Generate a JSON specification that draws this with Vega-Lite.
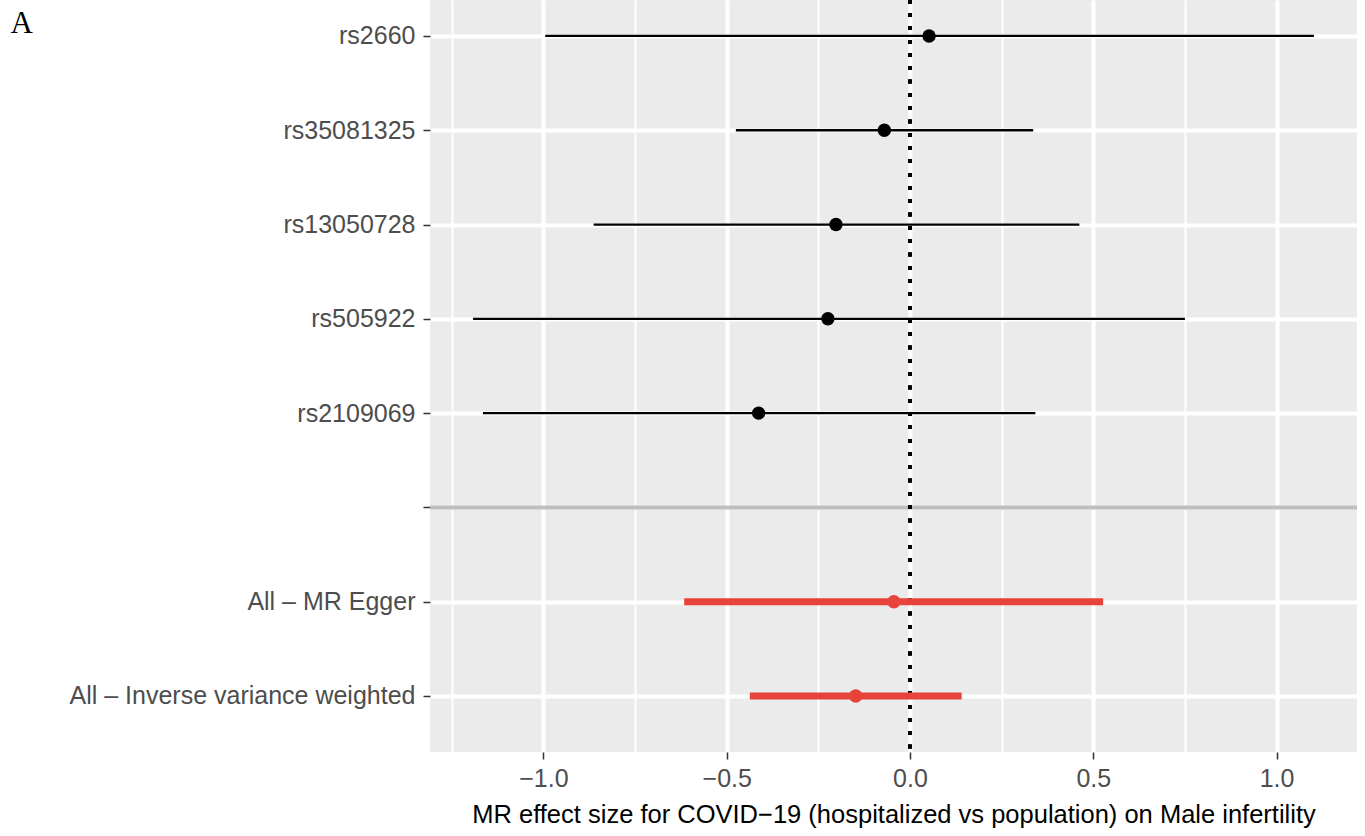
{
  "$schema": "https://vega.github.io/schema/vega-lite/v6.json",
  "autosize": {"type": "none"},
  "width": 927,
  "height": 752,
  "padding": {"left": 430, "top": 0, "right": 8, "bottom": 84},
  "background": "white",
  "config": {"view": {"fill": "#EBEBEB", "stroke": null}},
  "data": {
    "values": [
      {"SNP": "rs2660", "b": 0.052, "lo": -0.995, "hi": 1.102, "type": "snp"},
      {"SNP": "rs35081325", "b": -0.070, "lo": -0.475, "hi": 0.336, "type": "snp"},
      {"SNP": "rs13050728", "b": -0.202, "lo": -0.863, "hi": 0.462, "type": "snp"},
      {"SNP": "rs505922", "b": -0.224, "lo": -1.192, "hi": 0.750, "type": "snp"},
      {"SNP": "rs2109069", "b": -0.413, "lo": -1.165, "hi": 0.342, "type": "snp"},
      {"SNP": " ", "type": "blank"},
      {"SNP": "All – MR Egger", "b": -0.044, "lo": -0.616, "hi": 0.527, "type": "all"},
      {"SNP": "All – Inverse variance weighted", "b": -0.148, "lo": -0.437, "hi": 0.141, "type": "all"}
    ]
  },
  "layer": [
    {
      "transform": [{"filter": "datum.type == 'blank'"}],
      "mark": {"type": "rule", "color": "#BEBEBE", "strokeWidth": 4},
      "encoding": {
        "y": {
          "field": "SNP",
          "type": "nominal",
          "scale": {
            "type": "point",
            "domain": ["rs2660", "rs35081325", "rs13050728", "rs505922", "rs2109069", " ", "All – MR Egger", "All – Inverse variance weighted"],
            "padding": 0.4877,
            "align": 0.391
          },
          "axis": {
            "title": "A",
            "titleAngle": 0,
            "titleX": -420,
            "titleY": 32,
            "titleAlign": "left",
            "titleBaseline": "alphabetic",
            "titleFont": "Liberation Serif",
            "titleFontSize": 31,
            "titleFontWeight": "normal",
            "titleColor": "black",
            "labelFont": "Liberation Sans",
            "labelFontSize": 25,
            "labelColor": "#4D4D4D",
            "labelPadding": 8,
            "labelLimit": 0,
            "tickColor": "#333333",
            "tickSize": 7,
            "tickWidth": 1.5,
            "domain": false,
            "grid": true,
            "gridColor": "white",
            "gridWidth": 4
          }
        }
      }
    },
    {
      "mark": {"type": "rule", "color": "black", "strokeWidth": 3.5, "strokeDash": [3.5, 9.8]},
      "encoding": {
        "x": {
          "datum": 0,
          "type": "quantitative",
          "scale": {"domain": [-1.3095, 1.2195], "nice": false, "zero": false},
          "axis": {
            "title": "MR effect size for COVID−19 (hospitalized vs population) on Male infertility",
            "values": [-1.25, -1, -0.75, -0.5, -0.25, 0, 0.25, 0.5, 0.75, 1],
            "labelExpr": "abs(datum.value*4)%2==1 ? '' : replace(format(datum.value,'.1f'),'-','−')",
            "labelFont": "Liberation Sans",
            "labelFontSize": 25,
            "labelColor": "#4D4D4D",
            "labelPadding": 7,
            "titleFont": "Liberation Sans",
            "titleFontSize": 25.5,
            "titleFontWeight": "normal",
            "titleColor": "black",
            "titlePadding": 11,
            "titleLimit": 0,
            "tickColor": "#333333",
            "tickSize": 7,
            "tickWidth": 1.5,
            "tickOpacity": {"condition": {"test": "abs(datum.value*4)%2==1", "value": 0}, "value": 1},
            "domain": false,
            "grid": true,
            "gridColor": "white",
            "gridWidth": {"condition": {"test": "abs(datum.value*4)%2==1", "value": 2}, "value": 4}
          }
        }
      }
    },
    {
      "transform": [{"filter": "datum.type == 'snp'"}],
      "mark": {"type": "rule", "color": "black", "strokeWidth": 2.3},
      "encoding": {
        "x": {"field": "lo", "type": "quantitative"},
        "x2": {"field": "hi"},
        "y": {"field": "SNP", "type": "nominal"}
      }
    },
    {
      "transform": [{"filter": "datum.type == 'all'"}],
      "mark": {"type": "rule", "color": "#E8433A", "strokeWidth": 7},
      "encoding": {
        "x": {"field": "lo", "type": "quantitative"},
        "x2": {"field": "hi"},
        "y": {"field": "SNP", "type": "nominal"}
      }
    },
    {
      "transform": [{"filter": "datum.type == 'snp'"}],
      "mark": {"type": "circle", "color": "black", "size": 180, "opacity": 1},
      "encoding": {
        "x": {"field": "b", "type": "quantitative"},
        "y": {"field": "SNP", "type": "nominal"}
      }
    },
    {
      "transform": [{"filter": "datum.type == 'all'"}],
      "mark": {"type": "circle", "color": "#E8433A", "size": 180, "opacity": 1},
      "encoding": {
        "x": {"field": "b", "type": "quantitative"},
        "y": {"field": "SNP", "type": "nominal"}
      }
    }
  ]
}
